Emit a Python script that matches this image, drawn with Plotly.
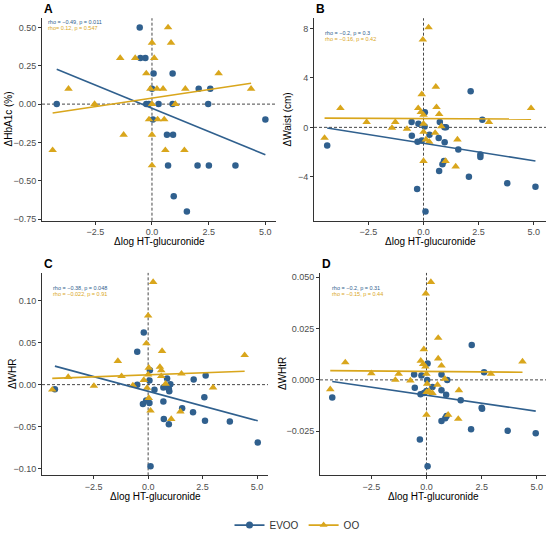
import plotly.graph_objects as go

# colours for the two groups
EVOO_COLOR = "#30608E"
OO_COLOR = "#D9A61C"

x_ticks = [-2.5, 0.0, 2.5, 5.0]
x_tick_text = ["\u22122.5", "0.0", "2.5", "5.0"]
x_title = "\u0394log HT-glucuronide"
group_names = ["EVOO", "OO"]

# panel A: HbA1c
a_evoo_x = [-4.2, -0.54, -0.51, -0.29, 0.07, 0.91, 0.0, 2.06, 2.57, -0.25, -0.14,
            0.29, 0.91, 2.48, 0.04, 5.0, 0.66, 0.93, 0.71, 2.01, 2.51, 3.68, 0.96, 1.54]
a_evoo_y = [0.0, 0.5, 0.3, 0.3, 0.2, 0.2, 0.1, 0.1, 0.1, 0.0, 0.0,
            0.0, 0.0, 0.0, -0.1, -0.1, -0.2, -0.2, -0.4, -0.4, -0.4, -0.4, -0.6, -0.7]
a_oo_x = [-4.38, -3.68, -2.53, -1.40, -1.25, -0.74, -0.25, 0.0, 0.10, -0.07, 0.22, 0.0, -0.13,
          0.25, 0.0, 0.0, 0.71, 0.84, 0.49, 0.54, 0.59, 1.03, 1.47, 1.43, 2.94, 4.37]
a_oo_y = [-0.3, 0.1, 0.0, 0.3, -0.2, 0.3, 0.2, 0.4, 0.3, 0.1, 0.1, 0.0, -0.1,
          -0.1, -0.2, -0.4, 0.5, 0.4, 0.1, -0.1, -0.3, 0.0, 0.1, -0.3, 0.2, 0.1]
a_fit_evoo = [0.227, -0.33]
a_fit_oo = [-0.058, 0.136]
a_y_ticks = [-0.75, -0.5, -0.25, 0.0, 0.25, 0.5]
a_y_text = ["\u22120.75", "\u22120.50", "\u22120.25", "0.00", "0.25", "0.50"]
a_stats = ["rho = \u22120.49, p = 0.011", "rho= 0.12, p = 0.547"]

# panel B: waist
b_evoo_x = [-4.37, -0.54, -0.53, -0.23, -0.27, -0.08, 0.06, 0.05, -0.29, 0.09, 0.27, 0.69, 0.74,
            0.95, 1.02, 0.96, 0.93, 0.86, 0.71, 1.58, 2.14, 2.06, 2.58, 2.58, 2.67, 3.80, 5.08]
b_evoo_y = [-1.47, 0.43, -0.67, 0.29, -1.17, -1.07, 1.23, 0.08, -4.99, -6.8, -0.59, -0.85, 0.43,
            0.02, 0.0, -1.2, -2.72, -2.99, -3.52, -1.79, 2.93, -4.0, -2.19, -2.4, 0.61, -4.51, -4.8]
b_oo_x = [-4.49, -3.77, -2.58, -1.43, -1.28, -0.75, -0.24, -0.08, -0.12, -0.03, 0.23, 0.0, 0.0, 0.0,
          0.0, 0.11, 0.26, 0.56, 0.59, 0.53, 0.71, 0.81, 1.0, 1.54, 1.46, 2.97, 4.88]
b_oo_y = [-0.85, 1.55, 0.43, -0.05, 0.43, -0.13, 1.55, 2.67, 1.23, 7.09, 8.08, 1.01, 0.29, -0.37,
          -2.72, -0.99, -1.17, 3.28, 1.63, -0.45, 1.07, 0.08, -2.72, -0.99, -3.17, 0.43, 1.55]
b_fit_evoo = [-0.05, -2.72]
b_fit_oo = [0.75, 0.67]
b_y_ticks = [-4, 0, 4, 8]
b_y_text = ["\u22124", "0", "4", "8"]
b_stats = ["rho = \u22120.2, p = 0.3", "rho = \u22120.16, p = 0.42"]

# panel C: WHR
c_evoo_x = [-4.28, -0.20, -0.50, -0.50, -0.24, -0.09, 0.08, 0.06, 0.06, 0.11, 0.29, 0.70, 0.70, 0.72,
            0.87, 0.87, 0.95, 0.97, 1.02, 0.95, 1.56, 2.06, 2.09, 2.58, 2.61, 2.64, 3.75, 5.03]
c_evoo_y = [-0.0055, 0.062, 0.039, 0.0, -0.023, -0.019, 0.017, 0.005, -0.022, -0.097, -0.006,
            -0.0035, -0.020, -0.041, 0.0074, -0.003, -0.005, -0.008, 0.0004, -0.047, -0.028,
            -0.033, 0.006, -0.015, -0.043, 0.011, -0.044, -0.069]
c_oo_x = [-4.40, -3.67, -2.49, -1.39, -1.22, -0.70, -0.08, 0.0, 0.23, 0.03, 0.0, -0.2, -0.05,
          0.03, 0.11, 0.64, 0.54, 0.60, 0.60, 0.80, 1.06, 1.53, 1.48, 2.98, 4.43]
c_oo_y = [-0.006, 0.009, -0.0016, 0.028, 0.010, -0.001, 0.049, 0.082, 0.122, 0.020, 0.012, 0.0055,
          -0.004, -0.016, -0.031, 0.040, 0.021, 0.017, 0.010, 0.001, -0.041, 0.013, -0.032,
          -0.0035, 0.035]
c_fit_evoo = [0.022, -0.043]
c_fit_oo = [0.0074, 0.016]
c_y_ticks = [-0.10, -0.05, 0.0, 0.05, 0.10]
c_y_text = ["\u22120.10", "\u22120.05", "0.00", "0.05", "0.10"]
c_stats = ["rho = \u22120.38, p = 0.048", "rho = \u22120.022, p = 0.91"]

# panel D: WHtR
d_evoo_x = [-4.27, -0.56, -0.53, -0.23, -0.27, -0.11, 0.05, 0.03, 0.0, -0.30, 0.05, 0.27, 0.68,
            0.68, 0.68, 0.89, 0.94, 0.91, 0.85, 1.55, 2.05, 2.02, 2.50, 2.52, 2.61, 3.68, 4.95]
d_evoo_y = [-0.0086, 0.0026, -0.0038, 0.0021, -0.007, -0.0064, 0.008, 0.0, -0.0054, -0.029,
            -0.042, -0.0035, 0.0026, -0.005, -0.020, -0.0072, 0.0, -0.0176, -0.0187, -0.0099,
            0.017, -0.024, -0.0136, -0.014, 0.0037, -0.0248, -0.026]
d_oo_x = [-4.36, -3.68, -2.5, -1.41, -1.26, -0.73, -0.26, -0.12, -0.15, -0.05, -0.03, 0.20, 0.0,
          0.03, 0.0, 0.0, 0.11, 0.27, 0.53, 0.53, 0.68, 0.5, 0.83, 0.98, 1.47, 1.44, 2.92, 4.35]
d_oo_y = [-0.0046, 0.0085, 0.0032, 0.0, 0.0029, -0.0003, 0.0093, 0.0149, 0.0077, 0.0064, 0.042,
          0.0476, 0.0029, -0.0019, -0.006, -0.017, -0.0054, -0.0064, 0.0204, 0.0104, 0.0069,
          -0.0024, 0.0005, -0.017, -0.0051, -0.019, 0.0029, 0.0089]
d_fit_evoo = [-0.0008, -0.0152]
d_fit_oo = [0.0045, 0.0037]
d_y_ticks = [-0.025, 0.0, 0.025, 0.05]
d_y_text = ["\u22120.025", "0.000", "0.025", "0.050"]
d_stats = ["rho = \u22120.2, p = 0.31", "rho = \u22120.15, p = 0.44"]


def _expand(values):
    # ggplot-style 5% padding
    lo, hi = min(values), max(values)
    pad = (hi - lo) * 0.05
    return [lo - pad, hi + pad]


# pixel boxes of the four panels (left, right, top, bottom) in a 550x540 page
W, H = 550, 540
panels = [
    dict(label="A", ytitle="\u0394HbA1c (%)", box=(42, 276, 18.5, 224), ytitle_x=8,
         stats_xy=(46, 22), ex=a_evoo_x, ey=a_evoo_y, ox=a_oo_x, oy=a_oo_y,
         fe=a_fit_evoo, fo=a_fit_oo, yt=a_y_ticks, ytt=a_y_text, stats=a_stats),
    dict(label="B", ytitle="\u0394Waist (cm)", box=(314, 546, 18.5, 224), ytitle_x=287,
         stats_xy=(323, 33), ex=b_evoo_x, ey=b_evoo_y, ox=b_oo_x, oy=b_oo_y,
         fe=b_fit_evoo, fo=b_fit_oo, yt=b_y_ticks, ytt=b_y_text, stats=b_stats),
    dict(label="C", ytitle="\u0394WHR", box=(42, 268, 277, 482.5), ytitle_x=12,
         stats_xy=(51, 292), ex=c_evoo_x, ey=c_evoo_y, ox=c_oo_x, oy=c_oo_y,
         fe=c_fit_evoo, fo=c_fit_oo, yt=c_y_ticks, ytt=c_y_text, stats=c_stats),
    dict(label="D", ytitle="\u0394WHtR", box=(320, 546, 277, 482.5), ytitle_x=282,
         stats_xy=(330, 292), ex=d_evoo_x, ey=d_evoo_y, ox=d_oo_x, oy=d_oo_y,
         fe=d_fit_evoo, fo=d_fit_oo, yt=d_y_ticks, ytt=d_y_text, stats=d_stats),
]

fig = go.Figure()
annotations = []
shapes = []
layout = {}

for i, p in enumerate(panels):
    n = "" if i == 0 else str(i + 1)
    xref, yref = "x" + n, "y" + n
    left, right, top, bottom = p["box"]

    xr = _expand(p["ex"] + p["ox"])
    yr = _expand(p["ey"] + p["oy"])

    axis_style = dict(
        showline=True, linecolor="#333333", linewidth=1,
        ticks="outside", ticklen=3, tickcolor="#333333",
        showgrid=False, zeroline=False,
        tickfont=dict(size=9, color="#4D4D4D"),
    )
    layout["xaxis" + n] = dict(
        axis_style, domain=[left / W, right / W], range=xr, anchor=yref,
        tickvals=x_ticks, ticktext=x_tick_text,
    )
    layout["yaxis" + n] = dict(
        axis_style, domain=[1 - bottom / H, 1 - top / H], range=yr, anchor=xref,
        tickvals=p["yt"], ticktext=p["ytt"],
    )

    # dashed reference lines at zero
    dash = dict(color="#333333", width=0.9, dash="3px,2px")
    shapes.append(dict(type="line", xref=xref, yref=yref + " domain", x0=0, x1=0,
                       y0=0, y1=1, line=dash, layer="below"))
    shapes.append(dict(type="line", xref=xref + " domain", yref=yref, x0=0, x1=1,
                       y0=0, y1=0, line=dash, layer="below"))

    fig.add_trace(go.Scatter(
        x=p["ex"], y=p["ey"], mode="markers", xaxis=xref, yaxis=yref,
        marker=dict(symbol="circle", size=6.5, color=EVOO_COLOR), showlegend=False,
    ))
    fig.add_trace(go.Scatter(
        x=p["ox"], y=p["oy"], mode="markers", xaxis=xref, yaxis=yref,
        marker=dict(symbol="triangle-up", size=7.5, color=OO_COLOR), showlegend=False,
    ))
    for xs, fit, color in ((p["ex"], p["fe"], EVOO_COLOR), (p["ox"], p["fo"], OO_COLOR)):
        fig.add_trace(go.Scatter(
            x=[min(xs), max(xs)], y=fit, mode="lines", xaxis=xref, yaxis=yref,
            line=dict(color=color, width=1.6), showlegend=False, hoverinfo="skip",
        ))

    cx = (left + right) / 2 / W
    annotations.append(dict(
        text="<b>%s</b>" % p["label"], x=left / W, y=1 - (top - 9) / H,
        xref="paper", yref="paper", xanchor="left", yanchor="middle",
        showarrow=False, font=dict(size=12, color="black"),
    ))
    annotations.append(dict(
        text=x_title, x=cx, y=1 - (bottom + 21) / H, xref="paper", yref="paper",
        xanchor="center", yanchor="middle", showarrow=False,
        font=dict(size=10, color="black"),
    ))
    annotations.append(dict(
        text=p["ytitle"], x=p["ytitle_x"] / W, y=1 - (top + bottom) / 2 / H,
        xref="paper", yref="paper", textangle=-90, xanchor="center",
        yanchor="middle", showarrow=False, font=dict(size=10, color="black"),
    ))
    sx, sy = p["stats_xy"]
    for k, (txt, color) in enumerate(zip(p["stats"], (EVOO_COLOR, OO_COLOR))):
        annotations.append(dict(
            text=txt, x=sx / W, y=1 - (sy + 6.5 * k) / H, xref="paper",
            yref="paper", xanchor="left", yanchor="middle", showarrow=False,
            font=dict(size=5.5, color=color),
        ))

# legend entries
for name, color, symbol in zip(group_names, (EVOO_COLOR, OO_COLOR), ("circle", "triangle-up")):
    fig.add_trace(go.Scatter(
        x=[None], y=[None], mode="lines+markers", name=name,
        line=dict(color=color, width=1.6),
        marker=dict(symbol=symbol, size=7, color=color),
    ))

fig.update_layout(
    width=W, height=H,
    margin=dict(l=0, r=0, t=0, b=0),
    paper_bgcolor="white", plot_bgcolor="white",
    font=dict(family="Liberation Sans, Arial, sans-serif"),
    showlegend=True,
    legend=dict(orientation="h", x=0.54, y=1 - 533 / H, xanchor="center",
                yanchor="middle", font=dict(size=10, color="#333333"),
                itemwidth=30, tracegroupgap=0),
    annotations=annotations,
    shapes=shapes,
    **layout,
)

# drop the browser's default body margin so the figure sits at the page origin
fig.write_html(
    "out.html",
    config={"displayModeBar": False},
    post_script="document.body.style.margin = '0';",
)
